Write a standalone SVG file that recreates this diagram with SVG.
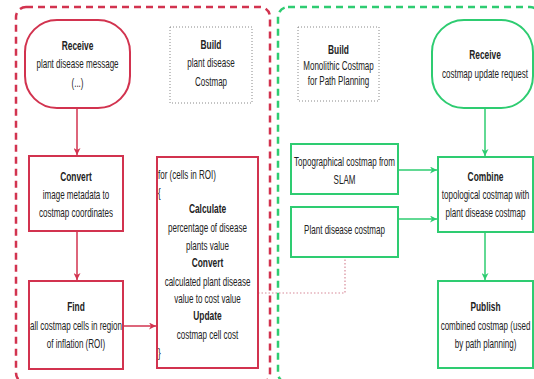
<svg xmlns="http://www.w3.org/2000/svg" width="534" height="379" viewBox="0 0 534 379">
<defs>
<style>
.r{fill:#fff;stroke:#d2334f;stroke-width:2}
.g{fill:#fff;stroke:#2ecc71;stroke-width:2}
.note{fill:#fff;stroke:#888;stroke-width:1;stroke-dasharray:1 2}
.cr{fill:none;stroke:#d2334f;stroke-width:2.5;stroke-dasharray:7 5}
.cg{fill:none;stroke:#2ecc71;stroke-width:2.5;stroke-dasharray:7 5}
text{font-family:"Liberation Sans",Arial,sans-serif;font-size:12px;fill:#222;text-anchor:middle}
.b{font-weight:bold;font-size:12.5px}
.l{text-anchor:start}
.er{stroke:#d2334f;stroke-width:1.5;fill:none}
.eg{stroke:#2ecc71;stroke-width:1.5;fill:none}
.dot{stroke:#d88a99;stroke-width:1.2;fill:none;stroke-dasharray:1.5 2}
</style>
<marker id="ar" viewBox="0 0 10 10" refX="10" refY="5" markerWidth="7" markerHeight="7" orient="auto" markerUnits="userSpaceOnUse"><path d="M0,0 L10,5 L0,10 L3,5 z" fill="#d2334f"/></marker>
<marker id="ag" viewBox="0 0 10 10" refX="10" refY="5" markerWidth="7" markerHeight="7" orient="auto" markerUnits="userSpaceOnUse"><path d="M0,0 L10,5 L0,10 L3,5 z" fill="#2ecc71"/></marker>
</defs>
<rect width="534" height="379" fill="#fff"/>
<g id="containers">
<rect class="cr" x="16" y="7" width="254" height="376" rx="10"/>
<rect class="cg" x="278" y="7" width="262" height="376" rx="10"/>
</g>
<g id="connectors">
<path class="er" d="M77,108 V155" marker-end="url(#ar)"/>
<path class="er" d="M77,231 V280" marker-end="url(#ar)"/>
<path class="er" d="M123,326 H156" marker-end="url(#ar)"/>
<path class="dot" d="M258,293 H345 V257"/>
<path class="eg" d="M485,108 V156" marker-end="url(#ag)"/>
<path class="eg" d="M398,170 H437" marker-end="url(#ag)"/>
<path class="eg" d="M398,219 H437" marker-end="url(#ag)"/>
<path class="eg" d="M485,232 V280" marker-end="url(#ag)"/>
</g>
<g id="receive-disease">
<rect class="r" x="25" y="20" width="105" height="88" rx="32"/>
<g transform="matrix(0.67 0 0 1 77.5 0)"><text class="b" y="50">Receive</text><text y="68">plant disease message</text><text y="87">(...)</text></g>
</g>
<g id="build-disease">
<rect class="note" x="170" y="27" width="82" height="76"/>
<g transform="matrix(0.67 0 0 1 211 0)"><text class="b" y="49">Build</text><text y="67">plant disease</text><text y="86">Costmap</text></g>
</g>
<g id="convert">
<rect class="r" x="29" y="156" width="94" height="75"/>
<g transform="matrix(0.67 0 0 1 76 0)"><text class="b" y="181">Convert</text><text y="199">image metadata to</text><text y="217">costmap coordinates</text></g>
</g>
<g id="find">
<rect class="r" x="29" y="281" width="94" height="88"/>
<g transform="matrix(0.67 0 0 1 76 0)"><text class="b" y="311">Find</text><text y="330">all costmap cells in region</text><text y="348">of inflation (ROI)</text></g>
</g>
<g id="loop">
<rect class="r" x="157" y="157" width="101" height="211"/>
<g transform="matrix(0.67 0 0 1 158 0)"><text class="l" x="0" y="179">for (cells in ROI)</text><text class="l" x="0" y="197">{</text><text class="l" x="0" y="357">}</text></g>
<g transform="matrix(0.67 0 0 1 207.5 0)">
<text class="b" y="213">Calculate</text><text y="232">percentage of disease</text><text y="250">plants value</text>
<text class="b" y="267">Convert</text><text y="286">calculated plant disease</text><text y="303">value to cost value</text>
<text class="b" y="320">Update</text><text y="339">costmap cell cost</text>
</g>
</g>
<g id="build-mono">
<rect class="note" x="298" y="27" width="81" height="74"/>
<g transform="matrix(0.67 0 0 1 338.5 0)"><text class="b" y="54">Build</text><text y="70">Monolithic Costmap</text><text y="85">for Path Planning</text></g>
</g>
<g id="receive-request">
<rect class="g" x="432" y="20" width="101" height="88" rx="32"/>
<g transform="matrix(0.67 0 0 1 485 0)"><text class="b" y="59">Receive</text><text y="78">costmap update request</text></g>
</g>
<g id="topo">
<rect class="g" x="291" y="144" width="107" height="50"/>
<g transform="matrix(0.67 0 0 1 344.5 0)"><text y="166">Topographical costmap from</text><text y="184">SLAM</text></g>
</g>
<g id="plant-costmap">
<rect class="g" x="291" y="207" width="107" height="50"/>
<g transform="matrix(0.67 0 0 1 344.5 0)"><text y="234">Plant disease costmap</text></g>
</g>
<g id="combine">
<rect class="g" x="438" y="157" width="95" height="75"/>
<g transform="matrix(0.67 0 0 1 485.5 0)"><text class="b" y="181">Combine</text><text y="199">topological costmap with</text><text y="217">plant disease costmap</text></g>
</g>
<g id="publish">
<rect class="g" x="438" y="281" width="95" height="87"/>
<g transform="matrix(0.67 0 0 1 485.5 0)"><text class="b" y="311">Publish</text><text y="330">combined costmap (used</text><text y="348">by path planning)</text></g>
</g>
</svg>
